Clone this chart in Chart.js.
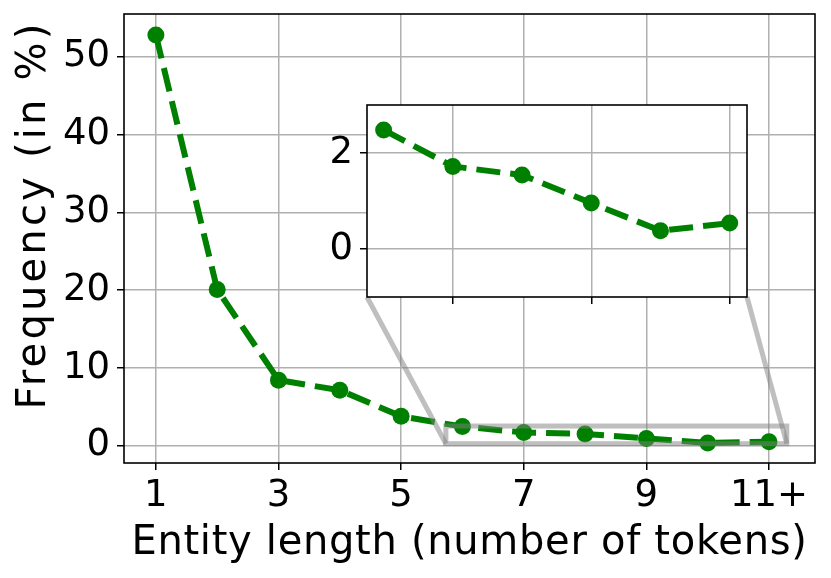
<!DOCTYPE html>
<html>
<head>
<meta charset="utf-8">
<script src="https://cdn.jsdelivr.net/npm/chart.js@4"></script>
<style>
  html, body { margin: 0; padding: 0; background: #fff; }
  #wrap { position: relative; width: 831px; height: 578px; }
  #mainChart { position: absolute; left: 0; top: 0; }
  #insetBox { position: absolute; left: 300px; top: 90px; width: 460px; height: 230px; }
</style>
</head>
<body>
<div id="wrap">
  <canvas id="mainChart" width="831" height="578"></canvas>
  <div id="insetBox"><canvas id="insetChart" width="460" height="230"></canvas></div>
</div>
<script>
// Entity length categories and their frequency (in %)
const lengthLabels = ['1', '2', '3', '4', '5', '6', '7', '8', '9', '10', '11+'];
const frequency = [52.8, 20.1, 8.45, 7.15, 3.8, 2.48, 1.72, 1.54, 0.96, 0.38, 0.54];

// tick values
const mainXTicks = [1, 3, 5, 7, 9, 11];
const mainYTicks = [0, 10, 20, 30, 40, 50];
const insetXTicks = [7, 9, 11];
const insetYTicks = [0, 2];

// zoomed region drawn on the main plot
const zoomX = [5.73, 11.29];
const zoomY = [0.28, 2.55];

const FONT = 'DejaVu Sans';
const GREEN = '#008000';
const GRID = '#b0b0b0';

Chart.defaults.font.family = FONT;
Chart.defaults.color = '#000';

function points(from) {
    return frequency.slice(from).map((v, i) => ({ x: from + i + 1, y: v }));
}

function tickLabel(v) {
    const idx = Math.round(v) - 1;
    return lengthLabels[idx] !== undefined ? lengthLabels[idx] : '';
}

// no extra room for half tick labels, the chart area is set by layout padding
function noPad(s) {
    s.paddingTop = 0;
    s.paddingBottom = 0;
    s.paddingLeft = 0;
    s.paddingRight = 0;
}

function lineDataset(from) {
    return {
        data: points(from),
        borderColor: GREEN,
        backgroundColor: GREEN,
        borderWidth: 6,
        borderDash: [24, 10],
        borderCapStyle: 'butt',
        pointRadius: 8.5,
        pointHoverRadius: 8.5,
        pointBorderWidth: 0,
        pointBackgroundColor: GREEN,
        tension: 0,
        fill: false
    };
}

const framePlugin = {
    id: 'frame',
    beforeDraw(chart, args, opts) {
        if (opts.fillWhite) {
            const a = chart.chartArea;
            chart.ctx.save();
            chart.ctx.fillStyle = '#fff';
            chart.ctx.fillRect(a.left, a.top, a.right - a.left, a.bottom - a.top);
            chart.ctx.restore();
        }
    },
    afterDatasetsDraw(chart) {
        const a = chart.chartArea;
        const ctx = chart.ctx;
        ctx.save();
        ctx.strokeStyle = '#000';
        ctx.lineWidth = 1.6;
        ctx.strokeRect(a.left, a.top, a.right - a.left, a.bottom - a.top);
        ctx.restore();
    }
};

let insetChart = null;

// grey box + connector lines on the main chart
const zoomPlugin = {
    id: 'zoomBox',
    afterDraw(chart) {
        const xs = chart.scales.x, ys = chart.scales.y;
        const ctx = chart.ctx;
        const x0 = xs.getPixelForValue(zoomX[0]), x1 = xs.getPixelForValue(zoomX[1]);
        const y0 = ys.getPixelForValue(zoomY[0]), y1 = ys.getPixelForValue(zoomY[1]);
        ctx.save();
        ctx.strokeStyle = 'rgba(128,128,128,0.5)';
        ctx.lineWidth = 5;
        ctx.strokeRect(x0, y1, x1 - x0, y0 - y1);
        if (insetChart) {
            const a = insetChart.chartArea;
            const ox = 300, oy = 90;
            ctx.beginPath();
            ctx.moveTo(a.left + ox, a.bottom + oy);
            ctx.lineTo(x0, y0);
            ctx.moveTo(a.right + ox, a.bottom + oy);
            ctx.lineTo(x1, y0);
            ctx.stroke();
        }
        ctx.restore();
    }
};

// axis titles
const titlePlugin = {
    id: 'titles',
    afterDraw(chart) {
        const ctx = chart.ctx;
        ctx.save();
        ctx.fillStyle = '#000';
        ctx.font = '40px "' + FONT + '"';
        ctx.textAlign = 'center';
        ctx.textBaseline = 'alphabetic';
        const a = chart.chartArea;
        ctx.letterSpacing = '0.7px';
        ctx.fillText('Entity length (number of tokens)', (a.left + a.right) / 2, 554);
        ctx.translate(45, 215);
        ctx.rotate(-Math.PI / 2);
        ctx.letterSpacing = '3.2px';
        ctx.fillText('Frequency (in %)', 0, 0);
        ctx.restore();
    }
};

const mainChart = new Chart(document.getElementById('mainChart'), {
    type: 'line',
    data: { datasets: [lineDataset(0)] },
    options: {
        responsive: false,
        animation: false,
        layout: { padding: { top: 14, right: 16, left: 0, bottom: 0 } },
        plugins: { legend: { display: false }, tooltip: { enabled: false }, frame: {} },
        scales: {
            x: {
                type: 'linear',
                min: 0.48,
                max: 11.75,
                afterBuildTicks: s => { s.ticks = mainXTicks.map(v => ({ value: v })); },
                afterFit: s => { s.height = 115; noPad(s); },
                ticks: { callback: v => tickLabel(v), font: { size: 37 }, padding: 4, maxRotation: 0, autoSkip: false },
                grid: { color: GRID, lineWidth: 1.5, tickColor: '#000', tickWidth: 1.5, tickLength: 7 },
                border: { display: false }
            },
            y: {
                min: -2.2,
                max: 55.5,
                afterBuildTicks: s => { s.ticks = mainYTicks.map(v => ({ value: v })); },
                afterFit: s => { s.width = 124; noPad(s); },
                ticks: { font: { size: 37 }, padding: 7 },
                grid: { color: GRID, lineWidth: 1.5, tickColor: '#000', tickWidth: 1.5, tickLength: 7 },
                border: { display: false }
            }
        }
    },
    plugins: [framePlugin, zoomPlugin, titlePlugin]
});

insetChart = new Chart(document.getElementById('insetChart'), {
    type: 'line',
    data: { datasets: [lineDataset(5)] },
    options: {
        responsive: false,
        animation: false,
        layout: { padding: { top: 15, right: 13, left: 0, bottom: 0 } },
        plugins: { legend: { display: false }, tooltip: { enabled: false }, frame: { fillWhite: true } },
        scales: {
            x: {
                type: 'linear',
                min: 5.76,
                max: 11.25,
                afterBuildTicks: s => { s.ticks = insetXTicks.map(v => ({ value: v })); },
                afterFit: s => { s.height = 23; noPad(s); },
                ticks: { display: false },
                grid: { color: GRID, lineWidth: 1.5, tickColor: '#000', tickWidth: 1.5, tickLength: 7 },
                border: { display: false }
            },
            y: {
                min: -1,
                max: 3,
                afterBuildTicks: s => { s.ticks = insetYTicks.map(v => ({ value: v })); },
                afterFit: s => { s.width = 67; noPad(s); },
                ticks: { font: { size: 37 }, padding: 7 },
                grid: { color: GRID, lineWidth: 1.5, tickColor: '#000', tickWidth: 1.5, tickLength: 7 },
                border: { display: false }
            }
        }
    },
    plugins: [framePlugin]
});

mainChart.draw();
</script>
</body>
</html>
